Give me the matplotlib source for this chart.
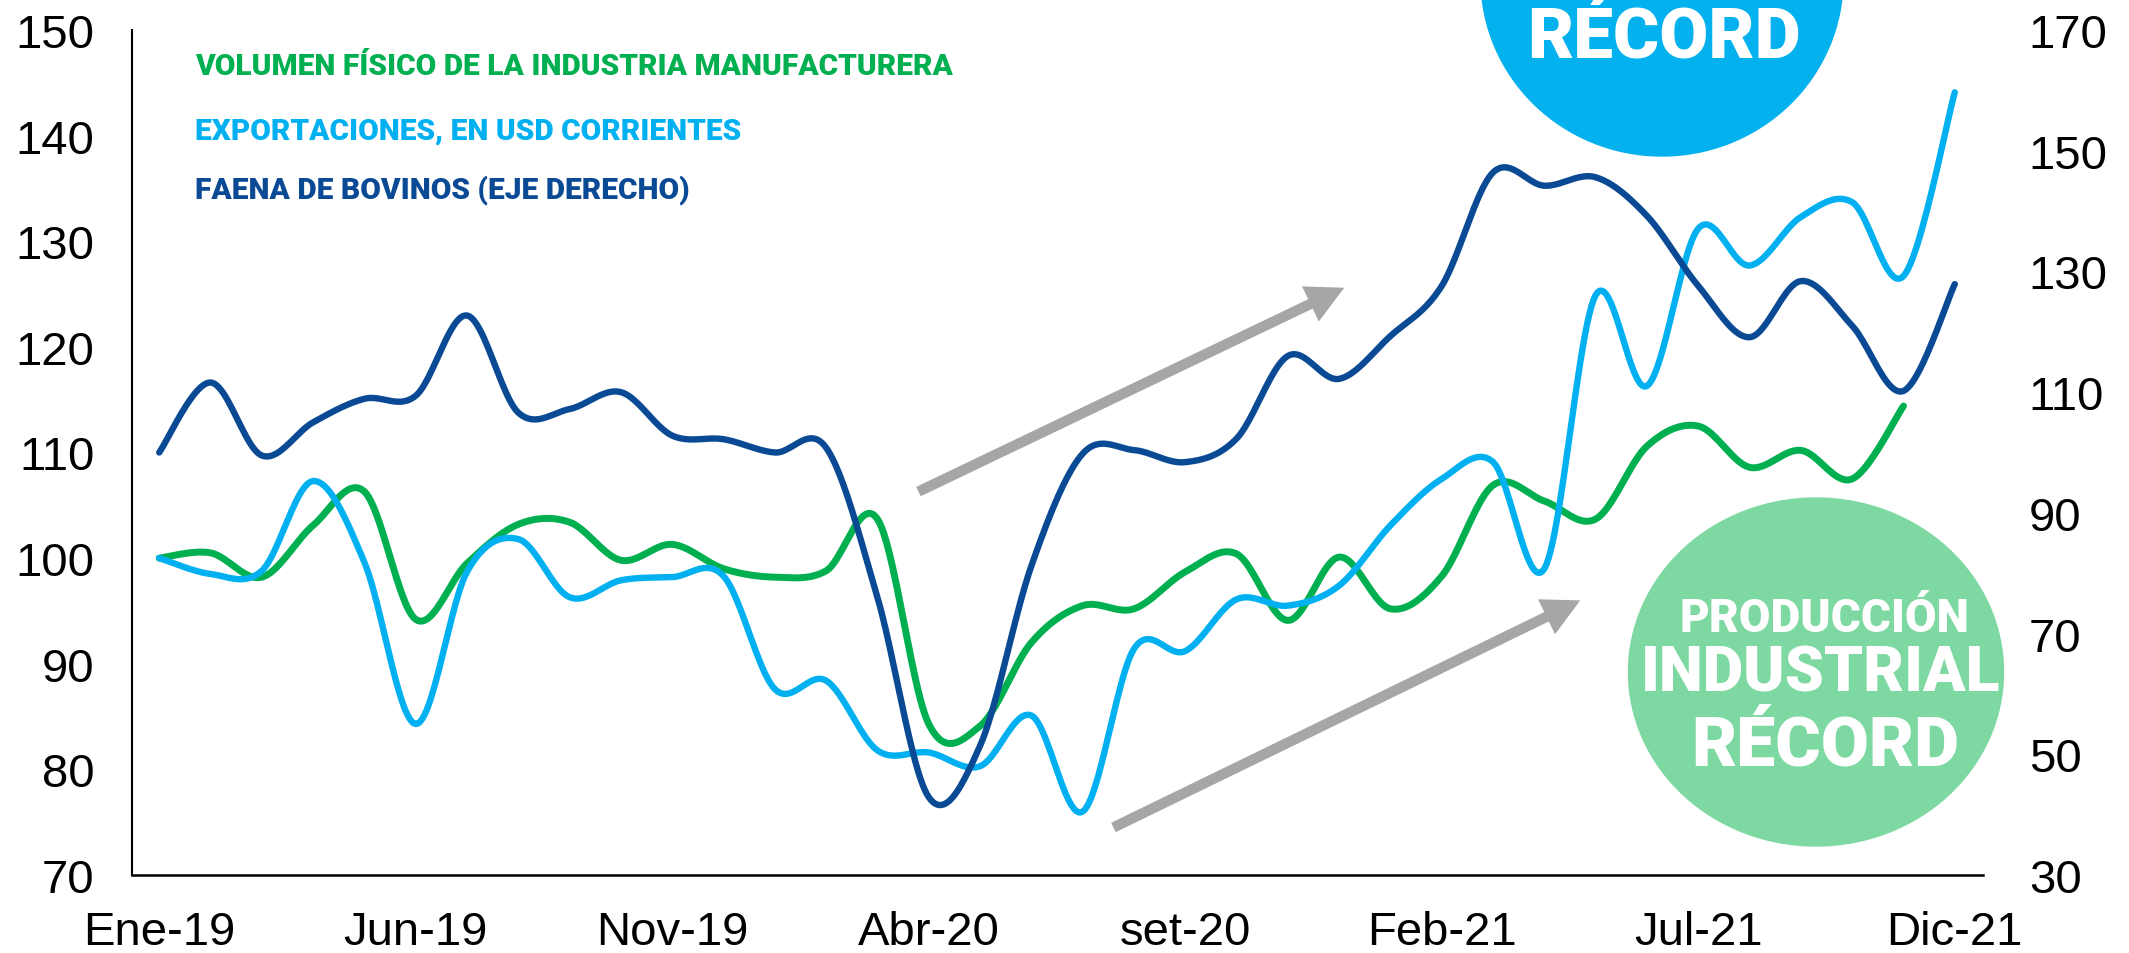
import numpy as np
import matplotlib
matplotlib.use('Agg')
import matplotlib.pyplot as plt
from matplotlib.patches import Ellipse

plt.rcParams['font.family'] = ['Liberation Sans', 'DejaVu Sans']

# monthly data, Ene-19 .. Dic-21
TICK_POS = [0, 5, 10, 15, 20, 25, 30, 35]
TICK_LABELS = ['Ene-19', 'Jun-19', 'Nov-19', 'Abr-20', 'set-20', 'Feb-21', 'Jul-21', 'Dic-21']

# volumen fisico industria manufacturera (left axis), ends in Nov-21
industria = [100.0, 100.5, 98.2, 103.1, 106.3, 94.2, 99.5, 103.2, 103.4, 99.8,
             101.3, 99.0, 98.2, 98.8, 103.7, 84.3, 84.1, 92.0, 95.5, 95.2,
             98.7, 100.4, 94.1, 100.1, 95.2, 98.3, 106.9, 105.4, 103.7, 110.6,
             112.5, 108.6, 110.2, 107.5, 114.4]
# exportaciones en USD corrientes (left axis)
exportaciones = [100.0, 98.5, 98.8, 107.3, 99.6, 84.3, 98.7, 101.8, 96.3, 97.9,
                 98.2, 98.3, 87.6, 88.4, 81.8, 81.6, 80.3, 85.1, 76.0, 91.4,
                 91.2, 96.1, 95.5, 97.4, 103.1, 107.5, 109.1, 99.0, 124.9, 116.3,
                 131.2, 127.7, 132.3, 133.7, 126.7, 144.1]
# faena de bovinos (right axis)
faena = [100.0, 111.6, 99.5, 105.0, 108.9, 109.4, 122.7, 106.6, 107.2, 110.0,
         102.8, 102.2, 100.0, 100.8, 76.0, 42.9, 51.4, 81.2, 99.8, 100.4,
         98.4, 102.3, 116.0, 112.2, 119.3, 127.6, 146.4, 144.2, 145.6, 139.2,
         127.6, 119.1, 128.4, 121.0, 110.2, 127.9]

GREEN = '#00B050'
LIGHT = '#00B0F0'
DARK = '#0A4A95'
GREY = '#A6A6A6'
W, H = 2129, 954


def smooth(y, n=25):
    # excel-like smoothed line (catmull-rom as bezier)
    x = np.arange(len(y), dtype=float)
    pts = np.column_stack([x, np.asarray(y, dtype=float)])
    P = np.vstack([pts[0], pts, pts[-1]])
    t = np.linspace(0, 1, n)[:, None]
    out = []
    for k in range(1, len(P) - 2):
        p0, p1, p2, p3 = P[k - 1], P[k], P[k + 1], P[k + 2]
        c1 = p1 + (p2 - p0) / 6
        c2 = p2 - (p3 - p1) / 6
        seg = (1 - t)**3 * p1 + 3 * (1 - t)**2 * t * c1 + 3 * (1 - t) * t**2 * c2 + t**3 * p2
        out.append(seg if k == 1 else seg[1:])
    s = np.vstack(out)
    return s[:, 0], s[:, 1]


fig = plt.figure(figsize=(W / 100, H / 100), dpi=100)
ax = fig.add_axes([132 / W, 1 - 876 / H, (1983 - 132) / W, (876 - 31) / H])
ax2 = ax.twinx()

sx, sy = smooth(industria)
ax.plot(sx, sy, color=GREEN, lw=5, solid_capstyle='round', zorder=2)
sx, sy = smooth(exportaciones)
ax.plot(sx, sy, color=LIGHT, lw=4.6, solid_capstyle='round', zorder=3)
sx, sy = smooth(faena)
ax2.plot(sx, sy, color=DARK, lw=4.6, solid_capstyle='round', zorder=3)

ax.set_xlim(-0.53, 35.55)
ax.set_ylim(70, 150)
ax.set_yticks(np.arange(70, 151, 10))
ax2.set_ylim(30, 170)
ax2.set_yticks(np.arange(30, 171, 20))
ax.set_xticks(TICK_POS)
ax.set_xticklabels(TICK_LABELS)

for a in (ax, ax2):
    a.spines['top'].set_visible(False)
    a.spines['right'].set_visible(False)
ax2.spines['left'].set_visible(False)
ax2.spines['bottom'].set_visible(False)
ax.spines['left'].set_linewidth(1.5)
ax.spines['bottom'].set_linewidth(1.8)
ax.tick_params(axis='y', length=0, pad=27, labelsize=34)
ax.tick_params(axis='x', length=0, pad=25, labelsize=34)
ax2.tick_params(axis='y', length=0, pad=33, labelsize=34)

# grey trend arrows
for tail, head in [((14.8, 106.3), (23.1, 125.6)), ((18.6, 74.5), (27.7, 96.0))]:
    ax.annotate('', xy=head, xytext=tail,
                arrowprops=dict(arrowstyle='simple,head_length=2.7,head_width=2.8,tail_width=0.75',
                                color=GREY, lw=0, mutation_scale=10,
                                shrinkA=0, shrinkB=0), zorder=1)

# series labels
lab = dict(family='Roboto', weight='black', fontsize=21.5, va='baseline')
fig.text(195 / W, 1 - 75 / H, 'VOLUMEN FÍSICO DE LA INDUSTRIA MANUFACTURERA', color=GREEN, **lab)
fig.text(195 / W, 1 - 140 / H, 'EXPORTACIONES, EN USD CORRIENTES', color=LIGHT, **lab)
fig.text(195 / W, 1 - 198 / H, 'FAENA DE BOVINOS (EJE DERECHO)', color=DARK, **lab)

# badges
badge = dict(color='white', family='Roboto', weight='black', ha='center', va='baseline', zorder=6)
fig.add_artist(Ellipse((1662 / W, 1 + 20 / H), 362 / W, 354 / H,
                       transform=fig.transFigure, color='#04B1EF', zorder=5))
fig.text(1664 / W, 1 - 57 / H, 'RÉCORD', fontsize=51, **badge)

fig.add_artist(Ellipse((1816 / W, 1 - 673 / H), 375 / W, 348 / H,
                       transform=fig.transFigure, color='#7ED8A1', zorder=5))
fig.text(1824 / W, 1 - 632 / H, 'PRODUCCIÓN', fontsize=33, **badge)
fig.text(1821 / W, 1 - 691 / H, 'INDUSTRIAL', fontsize=45, **badge)
fig.text(1825 / W, 1 - 765 / H, 'RÉCORD', fontsize=50, **badge)

fig.savefig('out.png', dpi=100)
